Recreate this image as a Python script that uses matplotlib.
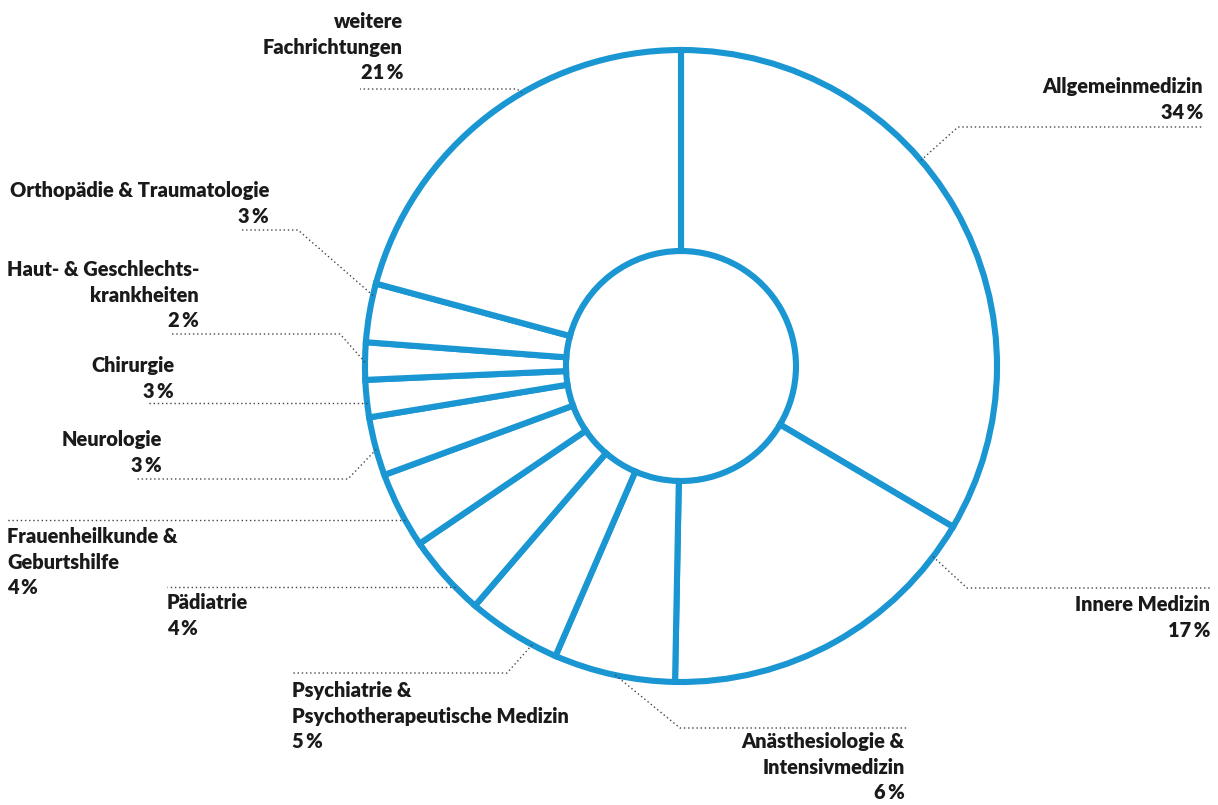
import numpy as np
import matplotlib
matplotlib.use('agg')
import matplotlib.pyplot as plt

plt.rcParams['font.family'] = ['Lato', 'DejaVu Sans']

fields = ["Allgemeinmedizin", "Innere Medizin", "Anästhesiologie & Intensivmedizin",
          "Psychiatrie & Psychotherapeutische Medizin", "Pädiatrie",
          "Frauenheilkunde & Geburtshilfe", "Neurologie", "Chirurgie",
          "Haut- & Geschlechtskrankheiten", "Orthopädie & Traumatologie",
          "weitere Fachrichtungen"]
shares = [33.5, 16.8, 6.2, 4.8, 4.2, 3.9, 3.0, 1.9, 1.9, 3.0, 20.8]
pct_labels = ["34", "17", "6", "5", "4", "4", "3", "3", "2", "3", "21"]
label_lines = [["Allgemeinmedizin"], ["Innere Medizin"],
               ["Anästhesiologie &", "Intensivmedizin"],
               ["Psychiatrie &", "Psychotherapeutische Medizin"],
               ["Pädiatrie"], ["Frauenheilkunde &", "Geburtshilfe"],
               ["Neurologie"], ["Chirurgie"],
               ["Haut- & Geschlechts-", "krankheiten"],
               ["Orthopädie & Traumatologie"],
               ["weitere", "Fachrichtungen"]]

BLUE = '#1a96d2'
TXT = '#1a1a1a'
cx, cy, R, r_in = 681, 366, 316, 115

# layout of labels (pixel coords, y down): text x, align, first baseline,
# leader anchor angle (deg clockwise from top), elbow (x, y), end x
layout = [
    (1203, 'right', 93, 49.4, (958, 127), 1203),
    (1210, 'right', 611, 127.1, (967, 588), 1212),
    (905, 'right', 748, 192.0, (680, 728), 907),
    (292, 'left', 697, 208.1, (507, 673), 292),
    (167, 'left', 609, 225.6, None, 167),
    (7, 'left', 543, 240.8, None, 7),
    (162, 'right', 446, 254.7, (348, 479), 135),
    (174, 'right', 372, 263.3, None, 148),
    (199, 'right', 276, 270.7, (340, 334), 170),
    (269, 'right', 197, 282.9, (298, 230), 241),
    (403, 'right', 28, 329.8, (517, 89), 360),
]
pitch = 25.7

fig = plt.figure(figsize=(12.18, 8.05), dpi=100)
ax = fig.add_axes([0, 0, 1, 1])
ax.pie(shares, center=(cx, cy), radius=R, startangle=-90, counterclock=True,
       wedgeprops=dict(width=R - r_in, facecolor='white', edgecolor=BLUE,
                       linewidth=4.4))
ax.set_xlim(0, 1218)
ax.set_ylim(805, 0)
ax.set_aspect('equal')
ax.axis('off')

for lines, pct, (tx, ha, y0, ang, elbow, xend) in zip(label_lines, pct_labels, layout):
    a = np.deg2rad(ang)
    px, py = cx + R * np.sin(a), cy - R * np.cos(a)
    if elbow is None:
        xs, ys = [px, xend], [py, py]
    else:
        xs, ys = [px, elbow[0], xend], [py, elbow[1], elbow[1]]
    ax.plot(xs, ys, color='#444444', lw=1.0, ls=(0, (1, 2)), zorder=1)
    for i, s in enumerate(lines + [pct + "\u2009%"]):
        ax.text(tx, y0 + i * pitch, s, ha=ha, va='baseline', fontsize=14.4,
                fontweight='heavy', color=TXT)

fig.savefig('out.png', dpi=100)
